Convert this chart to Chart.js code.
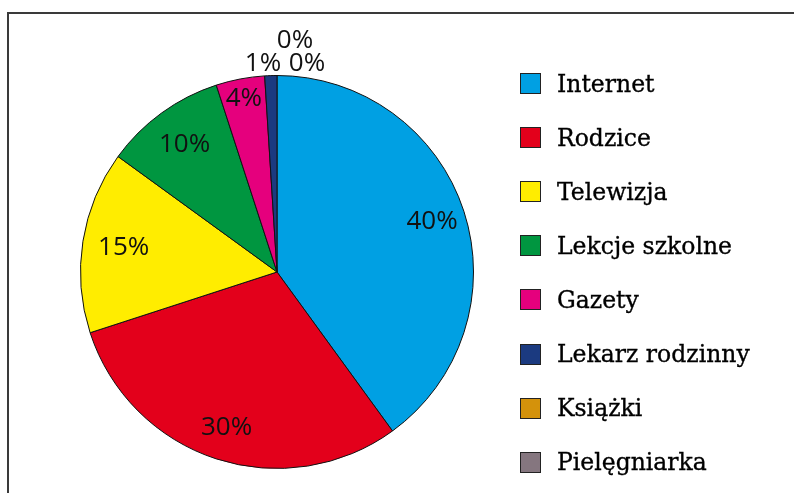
<!DOCTYPE html>
<html>
<head>
<meta charset="utf-8">
<script src="https://cdn.jsdelivr.net/npm/chart.js@4"></script>
<style>
  html, body { margin: 0; padding: 0; background: #fff; }
  #wrap { position: relative; width: 794px; height: 493px; overflow: hidden; background: #fff; }
  #frame { position: absolute; left: 7px; top: 12px; width: 820px; height: 520px;
           border-top: 2px solid #3a3a3a; border-left: 2px solid #3a3a3a; box-sizing: border-box; }
  #chartBox { position: absolute; left: 0; top: 0; width: 794px; height: 493px; }
  .leg { position: absolute; left: 520px; height: 22px; display: flex; align-items: center;
         font-family: "DejaVu Serif", serif; font-size: 23.5px; color: #000; white-space: nowrap;
         -webkit-text-stroke: 0.35px #000; }
  .leg .sw { width: 19px; height: 19px; border: 1.5px solid #222; margin-right: 16px; flex: none;
             -webkit-text-stroke: 0; }
</style>
</head>
<body>
<div id="wrap">
  <div id="frame"></div>
  <div id="chartBox"><canvas id="c" width="794" height="493"></canvas></div>
  <div id="legend"></div>
</div>
<script>
const categories = ["Internet", "Rodzice", "Telewizja", "Lekcje szkolne", "Gazety", "Lekarz rodzinny", "Książki", "Pielęgniarka"];
const values = [40, 30, 15, 10, 4, 1, 0, 0];
const colors = ["#00A0E3", "#E3001B", "#FFED00", "#009640", "#E5007D", "#1B3A80", "#D4920B", "#85767F"];

// HTML legend (real text)
const legendEl = document.getElementById('legend');
categories.forEach((name, i) => {
  const d = document.createElement('div');
  d.className = 'leg';
  d.style.top = (83.5 + i * 54.1 - 11) + 'px';
  const sw = document.createElement('span');
  sw.className = 'sw';
  sw.style.background = colors[i];
  const t = document.createElement('span');
  t.textContent = name;
  d.appendChild(sw); d.appendChild(t);
  legendEl.appendChild(d);
});

const labelPlugin = {
  id: 'sliceLabels',
  afterDatasetsDraw(chart) {
    const ctx = chart.ctx;
    const meta = chart.getDatasetMeta(0);
    ctx.save();
    ctx.font = '26px "Open Sans", "Noto Sans", sans-serif';
    ctx.fillStyle = '#111';
    ctx.textAlign = 'center';
    ctx.textBaseline = 'middle';
    meta.data.forEach((arc, i) => {
      const p = arc.getProps(['x', 'y', 'startAngle', 'endAngle', 'outerRadius'], true);
      const mid = (p.startAngle + p.endAngle) / 2;
      const txt = values[i] + '%';
      let x, y;
      if (values[i] >= 3) {
        // inside-end placement; narrower horizontal slices sit a little deeper
        const f = values[i] >= 30 ? 0.83 : values[i] >= 15 ? 0.79 : values[i] >= 10 ? 0.80 : 0.90;
        x = p.x + Math.cos(mid) * p.outerRadius * f;
        y = p.y + Math.sin(mid) * p.outerRadius * f;
      } else {
        // small slices: labels stacked just above the top of the pie
        const topX = p.x, topY = p.y - p.outerRadius;
        if (i === 5) { x = topX - 14; y = topY - 12; }
        else if (i === 6) { x = topX + 18; y = topY - 35; }
        else { x = topX + 30; y = topY - 12; }
      }
      ctx.fillText(txt, x, y);
    });
    ctx.restore();
  }
};

new Chart(document.getElementById('c'), {
  type: 'pie',
  data: {
    labels: categories,
    datasets: [{
      data: values,
      backgroundColor: colors,
      borderColor: '#111',
      borderWidth: 1
    }]
  },
  options: {
    responsive: false,
    animation: false,
    layout: { padding: { left: 80, right: 320, top: 75, bottom: 24 } },
    plugins: {
      legend: { display: false },
      tooltip: { enabled: false }
    }
  },
  plugins: [labelPlugin]
});
</script>
</body>
</html>
